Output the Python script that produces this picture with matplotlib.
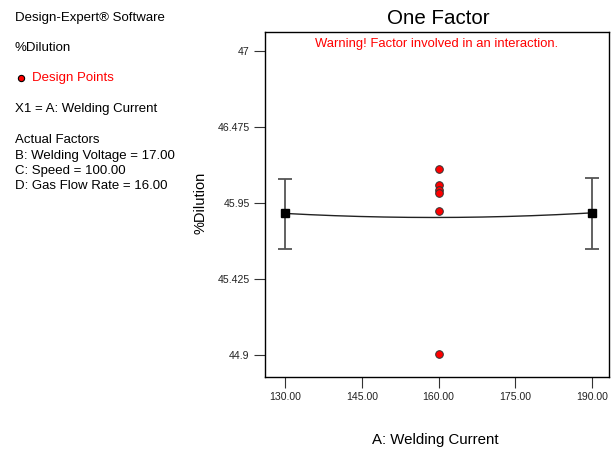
import numpy as np
import matplotlib
matplotlib.use("Agg")
import matplotlib.pyplot as plt

plt.rcParams['font.family'] = ['Liberation Sans', 'DejaVu Sans']

# Data
design_x = [160, 160, 160, 160, 160, 160]
design_y = [46.185, 46.074, 46.041, 46.017, 45.890, 44.907]
end_x = [130, 190]
end_y = [45.876, 45.880]
end_lo = [45.628, 45.633]
end_hi = [46.111, 46.118]
curve_pts_x = [130, 160, 190]
curve_pts_y = [45.876, 45.848, 45.880]
xticks = [130, 145, 160, 175, 190]
xtick_labels = ["130.00", "145.00", "160.00", "175.00", "190.00"]
yticks = [44.9, 45.425, 45.95, 46.475, 47]
ytick_labels = ["44.9", "45.425", "45.95", "46.475", "47"]

W, H = 611, 450
fig = plt.figure(figsize=(W / 100, H / 100), dpi=100)
ax = fig.add_axes([265 / W, 1 - 376.5 / H, (609 - 265) / W, (376.5 - 31.5) / H])

# quadratic fit curve
coef = np.polyfit(curve_pts_x, curve_pts_y, 2)
xs = np.linspace(130, 190, 200)
ax.plot(xs, np.polyval(coef, xs), color='#222222', lw=1.0, zorder=2)

# error bars
yerr = [np.array(end_y) - np.array(end_lo), np.array(end_hi) - np.array(end_y)]
ax.errorbar(end_x, end_y, yerr=yerr, fmt='none', ecolor='#555555', elinewidth=1.3,
            capsize=5, capthick=1.3, zorder=3)
ax.plot(end_x, end_y, 's', color='black', markersize=5.5, zorder=4)

# design points
ax.plot(design_x, design_y, 'o', markerfacecolor='red', markeredgecolor='#333333',
        markeredgewidth=0.7, markersize=5.5, linestyle='none', zorder=5)

ax.set_xlim(126.09, 193.32)
ax.set_ylim(44.75, 47.132)
ax.set_xticks(xticks)
ax.set_xticklabels(xtick_labels)
ax.set_yticks(yticks)
ax.set_yticklabels(ytick_labels)
ax.tick_params(axis='both', direction='out', length=8, width=0.8, labelsize=7.6,
               color='#333333', labelcolor='#222222', pad=3)
for s in ax.spines.values():
    s.set_linewidth(1.0)
    s.set_color('black')

ax.text(0.5, 0.965, "Warning! Factor involved in an interaction.", transform=ax.transAxes,
        ha='center', va='center', color='red', fontsize=9.4)

# titles/labels
fig.text(438 / W, 1 - 18 / H, "One Factor", ha='center', va='center', fontsize=14.8)
fig.text(435 / W, 1 - 440 / H, "A: Welding Current", ha='center', va='center', fontsize=10.8)
fig.text(200 / W, 1 - 203 / H, "%Dilution", ha='center', va='center', fontsize=10.5, rotation=90)

# left info panel
fs = 9.5
fig.text(15 / W, 1 - 18 / H, "Design-Expert® Software", ha='left', va='center', fontsize=fs)
fig.text(15 / W, 1 - 48 / H, "%Dilution", ha='left', va='center', fontsize=fs)
fig.lines.append(plt.Line2D([21 / W], [1 - 78 / H], marker='o', markersize=4.5,
                            markerfacecolor='red', markeredgecolor='black',
                            markeredgewidth=0.8, transform=fig.transFigure))
fig.text(32 / W, 1 - 78 / H, "Design Points", ha='left', va='center', fontsize=fs, color='red')
fig.text(15 / W, 1 - 109 / H, "X1 = A: Welding Current", ha='left', va='center', fontsize=fs)
fig.text(15 / W, 1 - 140 / H, "Actual Factors", ha='left', va='center', fontsize=fs)
fig.text(15 / W, 1 - 155.5 / H, "B: Welding Voltage = 17.00", ha='left', va='center', fontsize=fs)
fig.text(15 / W, 1 - 171 / H, "C: Speed = 100.00", ha='left', va='center', fontsize=fs)
fig.text(15 / W, 1 - 186 / H, "D: Gas Flow Rate = 16.00", ha='left', va='center', fontsize=fs)

fig.savefig("out.png", dpi=100)
